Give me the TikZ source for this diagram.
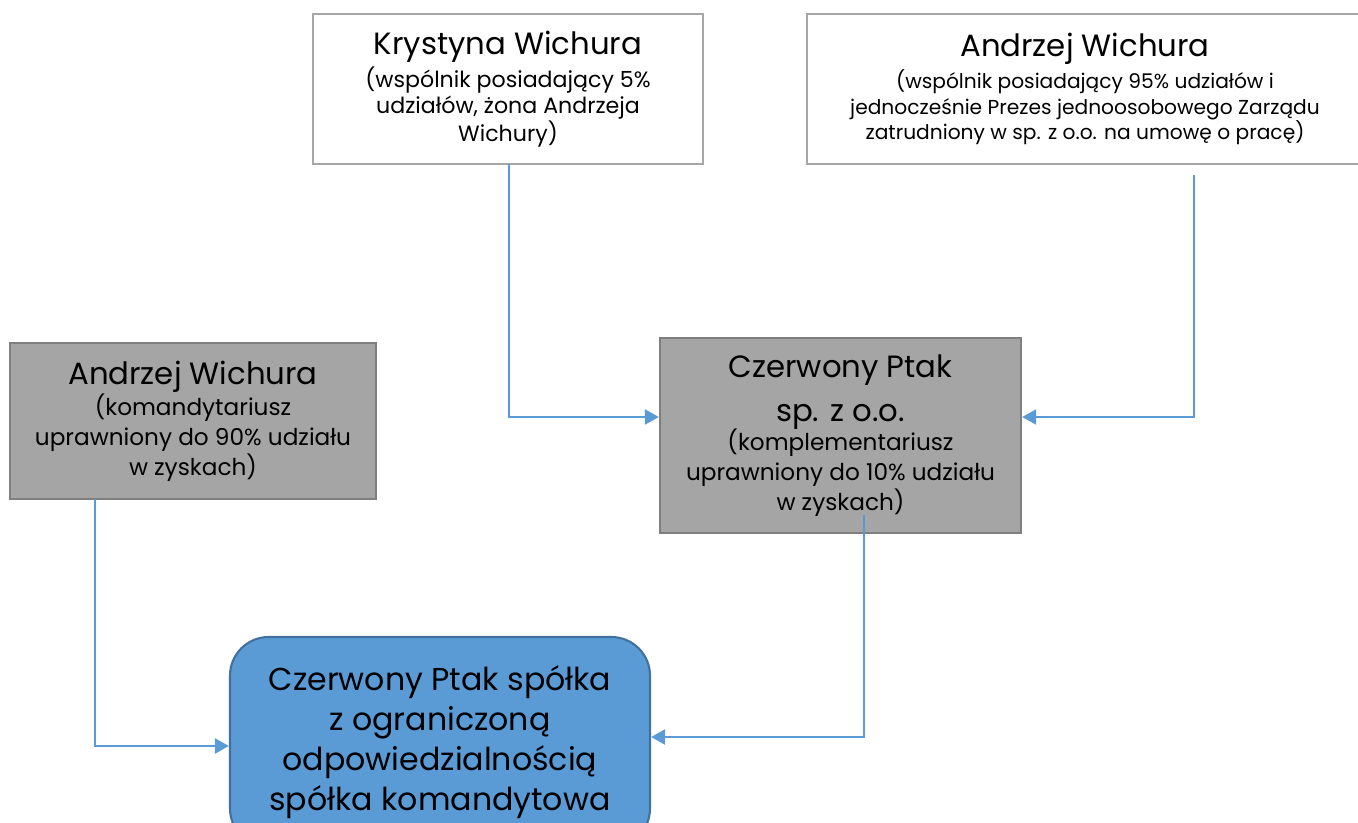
\documentclass[tikz,border=0pt]{standalone}
\usepackage{fontspec}
\setmainfont{Poppins}
\usetikzlibrary{arrows.meta,calc}
\definecolor{lnblue}{HTML}{5B9BD5}
\definecolor{bxgray}{HTML}{A5A5A5}
\definecolor{bxgrayd}{HTML}{7F7F7F}
\definecolor{wbord}{HTML}{A6A6A6}
\definecolor{bdblue}{HTML}{41719C}
\tikzset{
  wbox/.style={draw=wbord, line width=1.3pt, fill=white, rectangle, align=center, inner sep=0pt},
  gbox/.style={draw=bxgrayd, line width=1.3pt, fill=bxgray, rectangle, align=center, inner sep=0pt},
  bbox/.style={draw=bdblue, line width=1.2pt, fill=lnblue, rectangle, rounded corners=22pt, align=center, inner sep=0pt},
  conn/.style={draw=lnblue, line width=1.5pt, -{Triangle[length=8pt,width=8.5pt]}},
  smallf/.style={font=\fontsize{11.5}{14.5}\selectfont},
  krf/.style={font=\fontsize{12.6}{14.5}\selectfont},
  midf/.style={font=\fontsize{13.2}{17}\selectfont},
}
\newcommand{\ttl}[1]{{\fontsize{17.5}{19}\selectfont #1}}
\begin{document}
\begin{tikzpicture}[x=0.02cm,y=-0.02cm]
\useasboundingbox (0,0) rectangle (1358,822);
\clip (0,0) rectangle (1358,822);
\node[wbox, krf, minimum width=390*0.02cm, minimum height=150*0.02cm] (kr) at (508,89)
  {\ttl{Krystyna Wichura}\\[2pt](wspólnik posiadający 5\%\\udziałów, żona Andrzeja\\Wichury)};
\node[wbox, minimum width=556*0.02cm, minimum height=150*0.02cm, anchor=west] (aw) at (806,89) {};
\node[smallf, align=center] (awt) at (1085,89)
  {\ttl{Andrzej Wichura}\\[2pt](wspólnik posiadający 95\% udziałów i\\jednocześnie Prezes jednoosobowego Zarządu\\zatrudniony w sp. z o.o. na umowę o pracę)};
\node[gbox, midf, minimum width=366*0.02cm, minimum height=156*0.02cm] (ak) at (193,421)
  {\ttl{Andrzej Wichura}\\[1pt](komandytariusz\\uprawniony do 90\% udziału\\w zyskach)};
\node[gbox, midf, minimum width=361*0.02cm, minimum height=195*0.02cm] (cp) at (840.5,435.5)
  {\ttl{Czerwony Ptak}\\[8pt]\ttl{sp. z o.o.}\\[0pt](komplementariusz\\uprawniony do 10\% udziału\\w zyskach)};
\node[bbox, font=\fontsize{18}{22.7}\selectfont, minimum width=420*0.02cm, minimum height=210*0.02cm] (sk) at (440,742)
  {Czerwony Ptak spółka\\z ograniczoną\\odpowiedzialnością\\spółka komandytowa};
\coordinate (s1) at (509,164);
\coordinate (s2) at (1194,175);
\coordinate (s3) at (95,499);
\coordinate (s4) at (864,515);
\draw[conn] (s1) |- (cp.west |- 0,417);
\draw[conn] (s2) |- (cp.east |- 0,417);
\draw[conn] (s3) |- (sk.west |- 0,746);
\draw[conn] (s4) |- (sk.east |- 0,737);
\end{tikzpicture}
\end{document}
